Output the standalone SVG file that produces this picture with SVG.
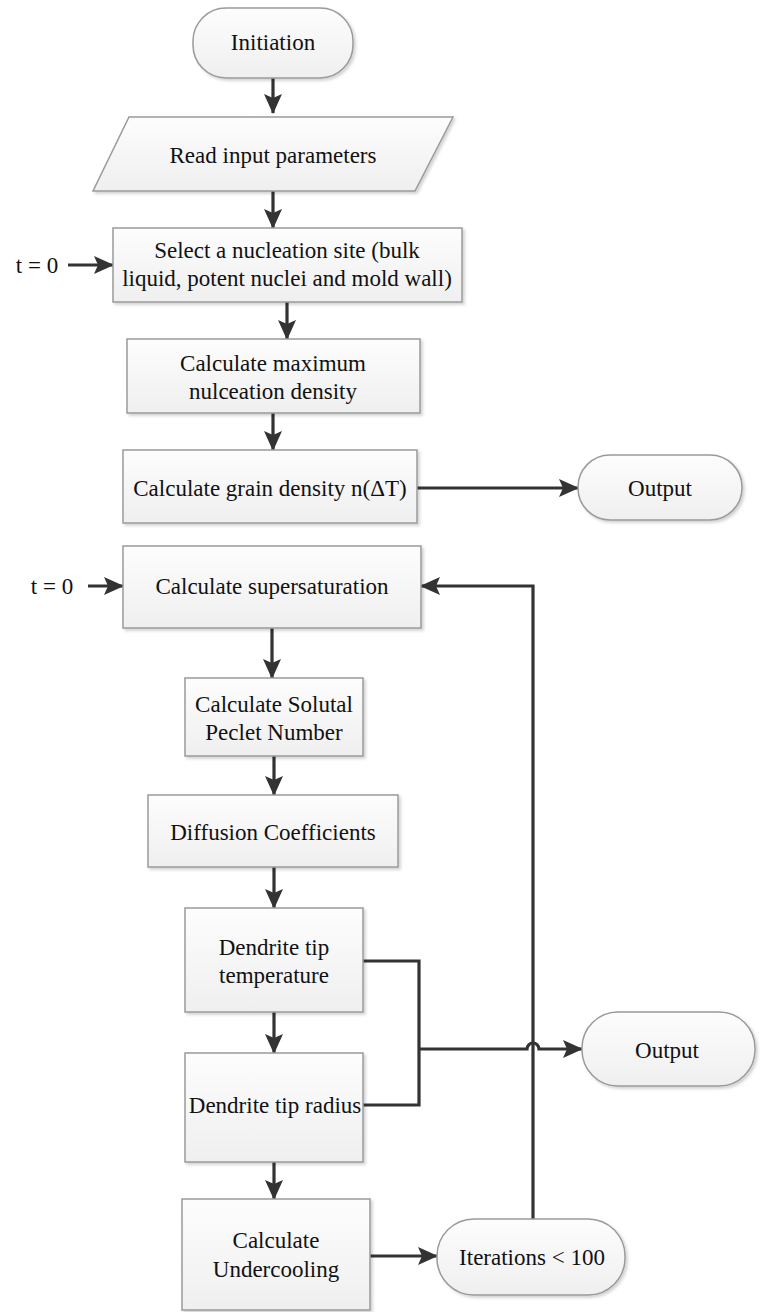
<svg xmlns="http://www.w3.org/2000/svg" width="766" height="1312" viewBox="0 0 766 1312">
<style>
text{font-family:'Liberation Serif','DejaVu Serif',serif;font-size:23px;fill:#111;text-anchor:middle}
.box{fill:url(#g);stroke:#9a9a9a;stroke-width:1.5;filter:url(#sh)}
.ln{fill:none;stroke:#333;stroke-width:3.2}
.ar{marker-end:url(#ah)}
</style>
<defs>
<linearGradient id="g" x1="0" y1="0" x2="0" y2="1"><stop offset="0" stop-color="#fdfdfd"/><stop offset="1" stop-color="#efefef"/></linearGradient>
<filter id="sh" x="-10%" y="-10%" width="125%" height="130%"><feDropShadow dx="2" dy="2" stdDeviation="1.5" flood-color="#000" flood-opacity="0.18"/></filter>
<marker id="ah" markerUnits="userSpaceOnUse" markerWidth="20" markerHeight="20" viewBox="0 0 20 20" refX="19" refY="10" orient="auto"><path d="M0,1 L20,10 L0,19 L4,10 z" fill="#333"/></marker>
</defs>
<g id="connectors">
<path class="ln ar" d="M273,78 V113"/>
<path class="ln ar" d="M273,191 V228"/>
<path class="ln ar" d="M68,265 H113"/>
<path class="ln ar" d="M287,302 V339"/>
<path class="ln ar" d="M273,413 V450"/>
<path class="ln ar" d="M417,488 H578"/>
<path class="ln ar" d="M88,586 H123"/>
<path class="ln ar" d="M533,1219 V586 H421"/>
<path class="ln ar" d="M272,628 V678"/>
<path class="ln ar" d="M274,756 V795"/>
<path class="ln ar" d="M274,867 V908"/>
<path class="ln" d="M363,961 H419 V1105 H363"/>
<path class="ln ar" d="M419,1049 H527 A6,6 0 0 1 539,1049 H582"/>
<path class="ln ar" d="M274,1012 V1053"/>
<path class="ln ar" d="M274,1162 V1199"/>
<path class="ln ar" d="M370,1256 H437"/>
</g>
<g id="n-init"><rect class="box" x="193" y="8" width="160" height="70" rx="33"/><text x="273" y="50">Initiation</text></g>
<g id="n-read"><path class="box" d="M129,117 H453 L415,191 H93 Z"/><text x="273" y="163">Read input parameters</text></g>
<g id="n-t0a"><text x="37" y="273">t = 0</text></g>
<g id="n-select"><rect class="box" x="113" y="228" width="349" height="74"/><text x="287" y="258">Select a nucleation site (bulk</text><text x="287" y="286">liquid, potent nuclei and mold wall)</text></g>
<g id="n-max"><rect class="box" x="127" y="339" width="293" height="74"/><text x="273" y="371">Calculate maximum</text><text x="273" y="399">nulceation density</text></g>
<g id="n-grain"><rect class="box" x="123" y="450" width="294" height="73"/><text x="270" y="496">Calculate grain density n(ΔT)</text></g>
<g id="n-out1"><rect class="box" x="578" y="455" width="164" height="65" rx="32"/><text x="660" y="496">Output</text></g>
<g id="n-t0b"><text x="52" y="594">t = 0</text></g>
<g id="n-super"><rect class="box" x="123" y="546" width="298" height="82"/><text x="272" y="594">Calculate supersaturation</text></g>
<g id="n-peclet"><rect class="box" x="185" y="678" width="178" height="78"/><text x="274" y="712">Calculate Solutal</text><text x="274" y="740">Peclet Number</text></g>
<g id="n-diff"><rect class="box" x="148" y="795" width="250" height="72"/><text x="273" y="840">Diffusion Coefficients</text></g>
<g id="n-temp"><rect class="box" x="185" y="908" width="178" height="104"/><text x="274" y="955">Dendrite tip</text><text x="274" y="983">temperature</text></g>
<g id="n-radius"><rect class="box" x="185" y="1053" width="178" height="109"/><text x="275" y="1113">Dendrite tip radius</text></g>
<g id="n-out2"><rect class="box" x="582" y="1012" width="173" height="74" rx="36"/><text x="667" y="1058">Output</text></g>
<g id="n-under"><rect class="box" x="182" y="1199" width="188" height="111"/><text x="276" y="1248">Calculate</text><text x="276" y="1277">Undercooling</text></g>
<g id="n-iter"><rect class="box" x="437" y="1219" width="188" height="76" rx="37"/><text x="532" y="1265">Iterations &lt; 100</text></g>
</svg>
